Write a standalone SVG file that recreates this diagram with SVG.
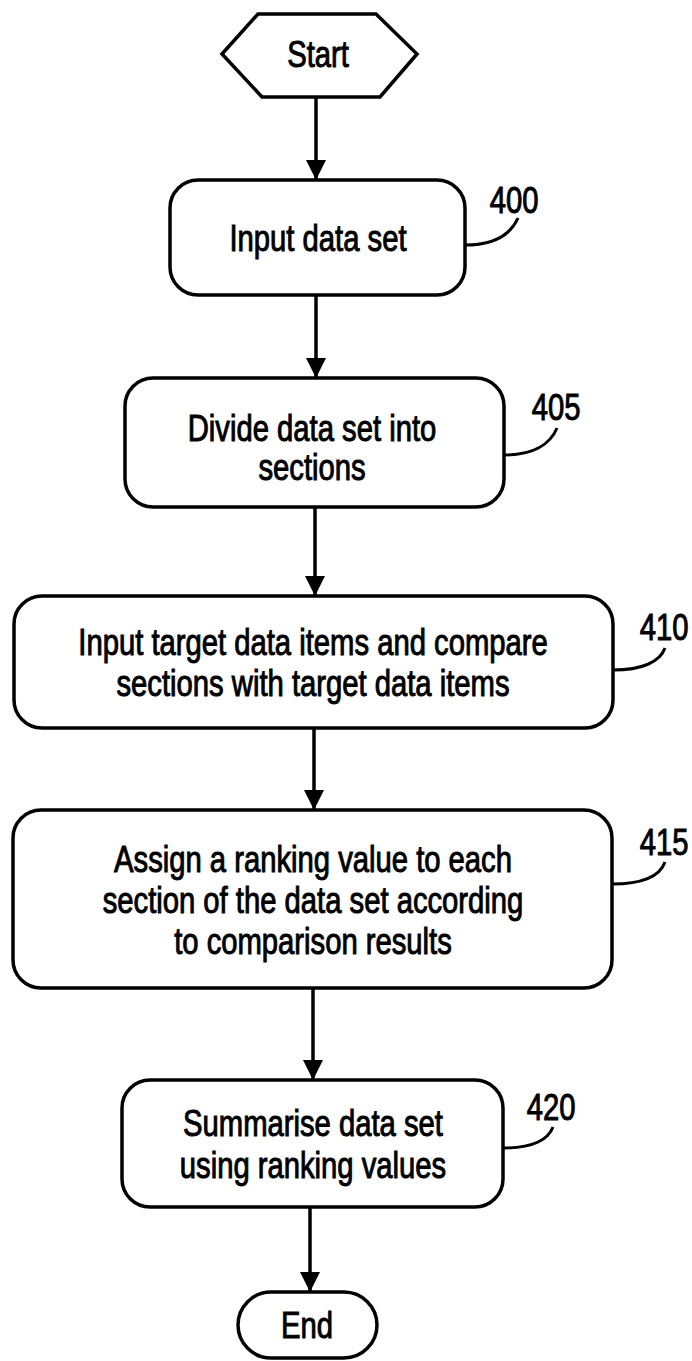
<svg xmlns="http://www.w3.org/2000/svg" width="692" height="1361" viewBox="0 0 692 1361">
<style>
.box{fill:#fff;stroke:#000;stroke-width:3.5}
.sh{fill:none;stroke:#000;stroke-width:3}
.t{font-family:"Liberation Sans",Arial,sans-serif;font-size:37px;fill:#000;stroke:#000;stroke-width:1;text-anchor:middle}
.lead{fill:none;stroke:#000;stroke-width:3}
.conn{stroke:#000;stroke-width:3.5;fill:none}
</style>
<defs>
<marker id="ah" markerUnits="userSpaceOnUse" markerWidth="20" markerHeight="24" refX="19" refY="10" orient="auto">
<path d="M0,0 L20,10 L0,20 Z" fill="#000"/>
</marker>
</defs>
<rect width="692" height="1361" fill="#fff"/>
<g id="connectors">
<line class="conn" x1="316" y1="97" x2="316" y2="179" marker-end="url(#ah)"/>
<line class="conn" x1="316" y1="295" x2="316" y2="377" marker-end="url(#ah)"/>
<line class="conn" x1="315" y1="507" x2="315" y2="595" marker-end="url(#ah)"/>
<line class="conn" x1="314" y1="728" x2="314" y2="809" marker-end="url(#ah)"/>
<line class="conn" x1="313" y1="988" x2="313" y2="1079" marker-end="url(#ah)"/>
<line class="conn" x1="310" y1="1207" x2="310" y2="1291" marker-end="url(#ah)"/>
</g>
<g id="start">
<polygon class="box" points="222,54 258,14 376,14 417,54 380,97 262,97"/>
<text class="t" transform="translate(318,67) scale(0.79,1)">Start</text>
</g>
<g id="n400">
<rect class="box" x="170" y="180" width="295" height="115" rx="28"/>
<text class="t" transform="translate(318,251) scale(0.79,1)">Input data set</text>
<path class="lead" d="M465,245 C492,245 510,236 518,218"/>
<text class="t" transform="translate(514,213) scale(0.79,1)">400</text>
</g>
<g id="n405">
<rect class="box" x="125" y="378" width="379" height="129" rx="28"/>
<text class="t" transform="translate(312,441) scale(0.79,1)">Divide data set into</text>
<text class="t" transform="translate(312,480) scale(0.79,1)">sections</text>
<path class="lead" d="M504,455 C532,455 550,445 557,428"/>
<text class="t" transform="translate(556,420) scale(0.79,1)">405</text>
</g>
<g id="n410">
<rect class="box" x="14" y="596" width="599" height="132" rx="28"/>
<text class="t" transform="translate(313,655) scale(0.79,1)">Input target data items and compare</text>
<text class="t" transform="translate(313,696) scale(0.79,1)">sections with target data items</text>
<path class="lead" d="M613,670 C642,670 660,662 665,648"/>
<text class="t" transform="translate(664,640) scale(0.79,1)">410</text>
</g>
<g id="n415">
<rect class="box" x="13" y="810" width="599" height="178" rx="28"/>
<text class="t" transform="translate(313,872) scale(0.79,1)">Assign a ranking value to each</text>
<text class="t" transform="translate(313,913) scale(0.79,1)">section of the data set according</text>
<text class="t" transform="translate(313,954) scale(0.79,1)">to comparison results</text>
<path class="lead" d="M612,884 C642,884 660,876 665,862"/>
<text class="t" transform="translate(664,855) scale(0.79,1)">415</text>
</g>
<g id="n420">
<rect class="box" x="122" y="1080" width="381" height="127" rx="28"/>
<text class="t" transform="translate(313,1136) scale(0.79,1)">Summarise data set</text>
<text class="t" transform="translate(313,1178) scale(0.79,1)">using ranking values</text>
<path class="lead" d="M503,1148 C532,1148 548,1140 553,1127"/>
<text class="t" transform="translate(551,1120) scale(0.79,1)">420</text>
</g>
<g id="end">
<rect class="box" x="238" y="1292" width="139" height="66" rx="33"/>
<text class="t" transform="translate(307,1338) scale(0.79,1)">End</text>
</g>
</svg>
